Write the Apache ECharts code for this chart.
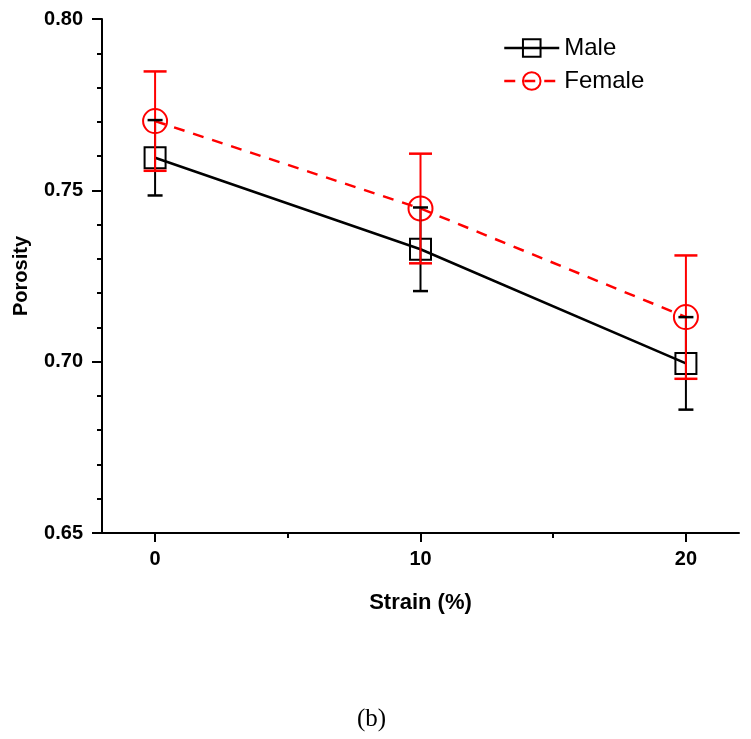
<!DOCTYPE html>
<html><head><meta charset="utf-8">
<script src="https://cdn.jsdelivr.net/npm/echarts@6/dist/echarts.min.js"></script>
<style>html,body{margin:0;padding:0;background:#fff}#c{width:751px;height:739px}</style>
</head><body><div id="c"></div>
<script>
const strain = [0, 10, 20];
const xMajorTicks = [0, 10, 20];
const xMinorTicks = [5, 15];
const maleMean = [0.7595, 0.7328, 0.6995];
const maleErr = [0.011, 0.0122, 0.0135];
const femaleMean = [0.7702, 0.7447, 0.713];
const femaleErr = [0.0145, 0.016, 0.018];

const FONT = 'Arial, "Liberation Sans", sans-serif';
const chart = echarts.init(document.getElementById('c'));

function errData(mean, err) {
  return strain.map((s, i) => [s, mean[i], mean[i] - err[i], mean[i] + err[i]]);
}
function errRenderer(color, halfCap, lw, part) {
  return function (params, api) {
    const x = api.value(0);
    const lo = api.coord([x, api.value(2)]);
    const hi = api.coord([x, api.value(3)]);
    const children = [];
    const st = { stroke: color, lineWidth: lw };
    if (part === 'all' || part === 'main') {
      children.push({ type: 'line', shape: { x1: lo[0], y1: lo[1], x2: hi[0], y2: hi[1] }, style: st });
      children.push({ type: 'line', shape: { x1: lo[0] - halfCap, y1: lo[1], x2: lo[0] + halfCap, y2: lo[1] }, style: { stroke: color, lineWidth: 2.5 } });
    }
    if (part === 'all' || part === 'upper') {
      children.push({ type: 'line', shape: { x1: hi[0] - halfCap, y1: hi[1], x2: hi[0] + halfCap, y2: hi[1] }, style: { stroke: color, lineWidth: 2.5 } });
    }
    return { type: 'group', children };
  };
}

const option = {
  animation: false,
  graphic: [{
    type: 'text', left: 372 - 15, top: 707,
    style: { text: '(b)', font: '25px "Times New Roman", "Liberation Serif", serif', fill: '#000' }
  }],
  legend: {
    orient: 'vertical', left: 498, top: 31, itemWidth: 55, itemHeight: 22, itemGap: 9,
    textStyle: { fontFamily: FONT, fontSize: 24, color: '#000' },
    lineStyle: { width: 2.5 },
    data: ['Male', 'Female']
  },
  grid: { left: 102, right: 12, top: 19, bottom: 206, containLabel: false },
  xAxis: [{
    type: 'value', min: -2, max: 22,
    name: 'Strain (%)', nameLocation: 'middle', nameGap: 59,
    nameTextStyle: { fontFamily: FONT, fontSize: 22, fontWeight: 'bold', color: '#000' },
    axisLine: { onZero: false, lineStyle: { color: '#000', width: 2 } },
    axisTick: { show: true, inside: false, length: 9, lineStyle: { width: 2, color: '#000' }, customValues: xMajorTicks },
    axisLabel: { customValues: xMajorTicks, fontFamily: FONT, fontSize: 20, fontWeight: 'bold', color: '#000', margin: 16 },
    splitLine: { show: false }
  }, {
    type: 'value', min: -2, max: 22, position: 'bottom',
    axisLine: { show: false, onZero: false },
    axisTick: { show: true, length: 5, lineStyle: { width: 2, color: '#000' }, customValues: xMinorTicks },
    axisLabel: { show: false },
    splitLine: { show: false }
  }],
  yAxis: {
    type: 'value', min: 0.65, max: 0.80, interval: 0.05,
    name: 'Porosity', nameLocation: 'middle', nameGap: 71,
    nameTextStyle: { fontFamily: FONT, fontSize: 20, fontWeight: 'bold', color: '#000' },
    axisLine: { show: true, onZero: false, lineStyle: { color: '#000', width: 2 } },
    axisTick: { show: true, length: 10, lineStyle: { width: 2, color: '#000' } },
    minorTick: { show: true, splitNumber: 5, length: 5, lineStyle: { width: 2, color: '#000' } },
    axisLabel: { formatter: v => v.toFixed(2), fontFamily: FONT, fontSize: 20, fontWeight: 'bold', color: '#000', margin: 19 },
    splitLine: { show: false }
  },
  series: [
    {
      name: 'Male', type: 'line', z: 3,
      data: strain.map((s, i) => [s, maleMean[i]]),
      symbol: 'rect', symbolSize: 21, showSymbol: true,
      itemStyle: { color: 'rgba(0,0,0,0)', borderColor: '#000', borderWidth: 2 },
      lineStyle: { color: '#000', width: 2.5 }
    },
    {
      name: 'Female', type: 'line', z: 3,
      data: strain.map((s, i) => [s, femaleMean[i]]),
      symbol: 'circle', symbolSize: 24, showSymbol: true,
      itemStyle: { color: 'rgba(0,0,0,0)', borderColor: '#ff0000', borderWidth: 2 },
      lineStyle: { color: '#ff0000', width: 2.5, type: [11, 9] }
    },
    {
      type: 'custom', z: 4, renderItem: errRenderer('#000', 7.5, 2, 'main'),
      data: errData(maleMean, maleErr), encode: { x: 0, y: [1, 2, 3] }
    },
    {
      type: 'custom', z: 5, renderItem: errRenderer('#ff0000', 11.5, 2, 'all'),
      data: errData(femaleMean, femaleErr), encode: { x: 0, y: [1, 2, 3] }
    },
    {
      type: 'custom', z: 6, renderItem: errRenderer('#000', 7.5, 2, 'upper'),
      data: errData(maleMean, maleErr), encode: { x: 0, y: [1, 2, 3] }
    }
  ]
};
chart.setOption(option);
</script></body></html>
